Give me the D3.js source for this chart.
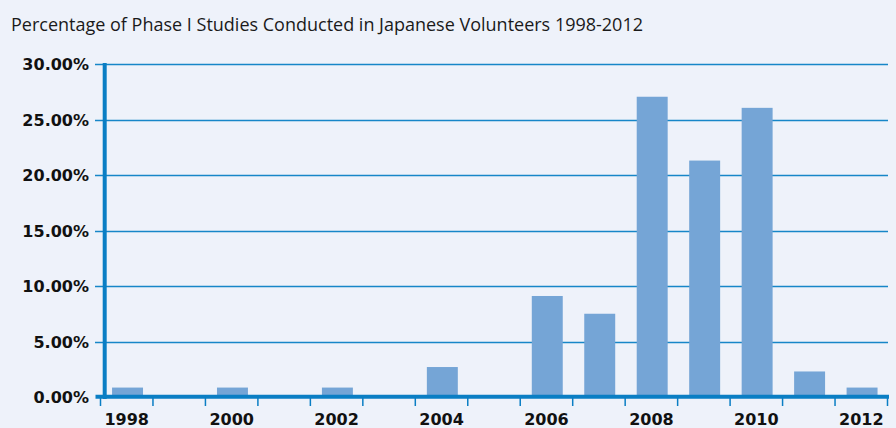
<!DOCTYPE html>
<html><head><meta charset="utf-8">
<script src="https://cdn.jsdelivr.net/npm/d3@7"></script>
<style>html,body{margin:0;padding:0;background:#eef2fa;}svg{display:block;}</style>
</head><body>
<svg id="c" width="896" height="428"></svg>
<script>
const title = "Percentage of Phase I Studies Conducted in Japanese Volunteers 1998-2012";
const years = ["1998","1999","2000","2001","2002","2003","2004","2005","2006","2007","2008","2009","2010","2011","2012"];
const values = [0.85, 0, 0.85, 0, 0.85, 0, 2.7, 0, 9.1, 7.5, 27.05, 21.3, 26.05, 2.3, 0.85];
const yTicks = [0, 5, 10, 15, 20, 25, 30];
const xLabels = ["1998","2000","2002","2004","2006","2008","2010","2012"];

const svg = d3.select("#c");
const bg = "#eef2fa", axisCol = "#0a7ec4", gridCol = "#1786c8", barCol = "#75a5d6";
svg.append("rect").attr("width",896).attr("height",428).attr("fill",bg);

const x = d3.scaleBand().domain(years).range([100.5, 887.5]).paddingInner(0).paddingOuter(0);
const y = d3.scaleLinear().domain([0,30]).range([397, 64]);

svg.append("text").attr("x",11).attr("y",31).text(title)
  .attr("font-family","'Open Sans', sans-serif").attr("font-size",18).attr("fill","#1a1a1a")
  .attr("textLength",632).attr("lengthAdjust","spacingAndGlyphs");

// gridlines
svg.append("g").selectAll("line").data(yTicks.filter(d=>d>0)).join("line")
  .attr("x1",95).attr("x2",888).attr("y1",d=>Math.round(y(d))+0.5).attr("y2",d=>Math.round(y(d))+0.5)
  .attr("stroke",gridCol).attr("stroke-width",1.3);

// bars
const bw = x.bandwidth()*0.59;
svg.append("g").selectAll("rect").data(years.map((yr,i)=>({yr,v:values[i]})).filter(d=>d.v>0)).join("rect")
  .attr("x",d=>x(d.yr)+x.bandwidth()/2-bw/2+0.8).attr("width",bw)
  .attr("y",d=>y(d.v)).attr("height",d=>y(0)-y(d.v)).attr("fill",barCol);

// y axis labels
svg.append("g").selectAll("text").data(yTicks).join("text")
  .attr("x",89).attr("y",d=>y(d)+6).attr("text-anchor","end")
  .attr("font-family","'DejaVu Sans', sans-serif").attr("font-weight","bold").attr("font-size",16).attr("fill","#111")
  .text(d=>d3.format(".2f")(d)+"%");

// y axis line
svg.append("line").attr("x1",104.7).attr("x2",104.7).attr("y1",63).attr("y2",399).attr("stroke",axisCol).attr("stroke-width",4);

// x axis line
svg.append("line").attr("x1",95.5).attr("x2",889).attr("y1",396.7).attr("y2",396.7).attr("stroke",axisCol).attr("stroke-width",4);

// x ticks at band edges
const edges = years.map(d=>x(d)).concat([x.range()[1]]);
svg.append("g").selectAll("line").data(edges).join("line")
  .attr("x1",d=>d).attr("x2",d=>d).attr("y1",398).attr("y2",406)
  .attr("stroke",axisCol).attr("stroke-width",1.5);

// x labels
svg.append("g").selectAll("text").data(xLabels).join("text")
  .attr("x",d=>x(d)+x.bandwidth()/2).attr("y",425).attr("text-anchor","middle")
  .attr("font-family","'DejaVu Sans', sans-serif").attr("font-weight","bold").attr("font-size",16).attr("fill","#111")
  .text(d=>d);
</script>
</body></html>
